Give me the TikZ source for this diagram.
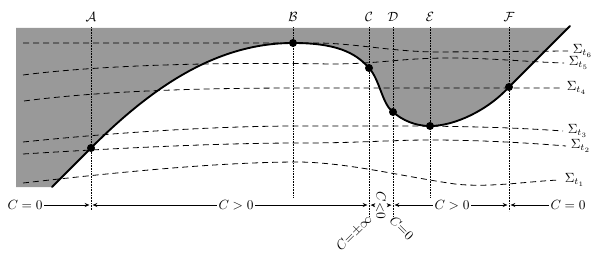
\documentclass[tikz,border=0pt]{standalone}
\usepackage{amsmath, amssymb}
\usetikzlibrary{arrows.meta}

\begin{document}
\begin{tikzpicture}[x=0.75pt, y=-0.75pt,
    surface/.style={line width=1.4pt, line cap=round},
    slice/.style={dash pattern=on 4.5pt off 3pt, line width=0.6pt},
    marker/.style={dash pattern=on 0.6pt off 0.6pt, line width=0.5pt},
    event/.style={circle, fill, inner sep=0pt, minimum size=6pt},
    regime/.style={-{Stealth[length=3.5pt, width=3pt]}, line width=0.4pt, shorten >=1.2pt},
    sign/.style={inner sep=1pt}]
  \useasboundingbox (0,0) rectangle (599,253);
  % points on the boundary
  \coordinate (p0) at (52,187);
  \coordinate (pA) at (91,148);
  \coordinate (pB) at (293,43);
  \coordinate (pC) at (369,68);
  \coordinate (pD) at (393,112);
  \coordinate (pE) at (430,126);
  \coordinate (pF) at (509,87);
  \coordinate (pEnd) at (570,26);
  % shaded region
  \fill[black!40] (16,28) -- (16,187) -- (p0) -- (pA)
    .. controls (150,89) and (215,43) .. (pB)
    .. controls (335,43) and (355,52) .. (pC)
    .. controls (380,80) and (382,104) .. (pD)
    .. controls (402,120) and (415,126) .. (pE)
    .. controls (455,126) and (488,110) .. (pF)
    -- (568,28) -- cycle;
  % vertical markers
  \foreach \n/\x/\yb in {A/91/210, B/293/198, C/369/217, D/393/217, E/430/198, F/509/211} {
    \draw[marker] (\x,27) -- (\x,\yb);
    \node (l\n) at (\x,17) {$\mathcal{\n}$};
    \coordinate (x\n) at (\x,205);
  }
  % slices
  \draw[slice] (23,183) .. controls (120,172) and (220,162) .. (300,162)
    .. controls (350,163) and (400,176) .. (455,184)
    .. controls (490,188) and (530,181) .. (560,180) node[right] (s1) {$\Sigma_{t_1}$};
  \draw[slice] (23,154) .. controls (120,148) and (220,143) .. (300,143)
    .. controls (360,143) and (390,140) .. (430,140)
    .. controls (480,140) and (530,143) .. (566,146) node[right] (s2) {$\Sigma_{t_2}$};
  \draw[slice] (23,142) .. controls (120,132) and (220,126) .. (300,126)
    .. controls (400,126) and (480,125) .. (563,131) node[right] (s3) {$\Sigma_{t_3}$};
  \draw[slice] (24,101) .. controls (100,91) and (200,88) .. (300,88)
    -- (562,88) node[right] (s4) {$\Sigma_{t_4}$};
  \draw[slice] (23,75) .. controls (100,65) and (220,62) .. (330,64)
    .. controls (380,64) and (400,58) .. (450,58)
    .. controls (490,58) and (530,62) .. (564,63) node[right] (s5) {$\Sigma_{t_5}$};
  \draw[slice] (23,43) -- (320,43)
    .. controls (360,44) and (395,52) .. (440,52)
    -- (568,51) node[right] (s6) {$\Sigma_{t_6}$};
  % boundary
  \draw[surface] (p0) -- (pA)
    .. controls (150,89) and (215,43) .. (pB)
    .. controls (335,43) and (355,52) .. (pC)
    .. controls (380,80) and (382,104) .. (pD)
    .. controls (402,120) and (415,126) .. (pE)
    .. controls (455,126) and (488,110) .. (pF)
    -- (pEnd);
  \foreach \n in {A,B,C,D,E,F} \node[event] (d\n) at (p\n) {};
  % sign of C
  \node[sign] (z1) at (25,205) {$C=0$};
  \node[sign] (g1) at (236,205) {$C>0$};
  \node[sign, rotate=-90] (n1) at (381,205.5) {$C{<}0$};
  \node[sign] (g2) at (452,205) {$C>0$};
  \node[sign] (z2) at (568,205) {$C=0$};
  \node[sign, rotate=45, anchor=east] (inf) at (371,216) {$C{=}{\pm}\infty$};
  \node[sign, rotate=-45, anchor=west] (z3) at (391,217) {$C{=}0$};
  \draw[regime] (z1) -- (xA);
  \draw[regime] (g1) -- (xA);
  \draw[regime] (g1) -- (xC);
  \draw[regime] (n1) -- (xC);
  \draw[regime] (n1) -- (xD);
  \draw[regime] (g2) -- (xD);
  \draw[regime] (g2) -- (xF);
  \draw[regime] (z2) -- (xF);
\end{tikzpicture}
\end{document}
